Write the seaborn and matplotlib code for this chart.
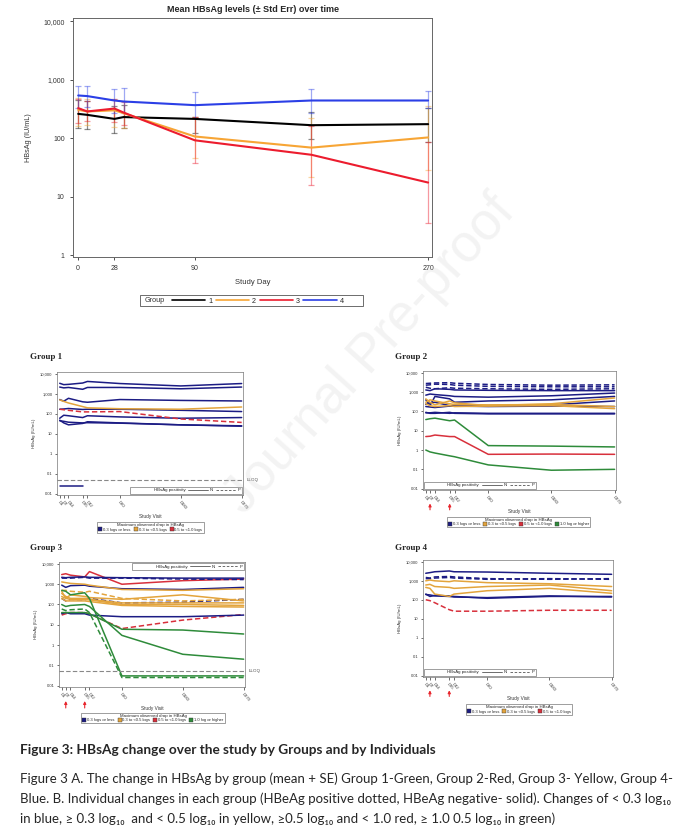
import numpy as np
import pandas as pd
import matplotlib
matplotlib.use("Agg")
import matplotlib.pyplot as plt
import seaborn as sns
from matplotlib.lines import Line2D
from matplotlib.patches import Rectangle
from matplotlib.ticker import FuncFormatter, FixedLocator, NullLocator

# ---- panel A: mean HBsAg (+/- SE) by group ----
days = [0, 7, 28, 35, 90, 180, 270]
groups = ["1", "2", "3", "4"]
group_colors = ["#000000", "#f7a535", "#ec1c2e", "#2b3fe6"]
g1_mean = [261, 251, 214, 230, 214, 167, 174]
g1_lo = [152, 146, 122, 148, 122, 96, 87]
g1_hi = [454, 440, 358, 370, 235, 286, 326]
g2_mean = [306, 287, 300, 268, 107, 69, 103]
g2_lo = [163, 170, 155, 150, 45, 22, 28]
g2_hi = [480, 460, 470, 440, 230, 220, 360]
g3_mean = [327, 287, 322, 275, 92, 52, 17.4]
g3_lo = [180, 200, 190, 170, 38, 15.5, 3.5]
g3_hi = [470, 430, 460, 420, 230, 160, 87]
g4_mean = [539, 526, 442, 425, 368, 442, 442]
g4_lo = [327, 340, 268, 270, 220, 275, 327]
g4_hi = [790, 790, 700, 710, 614, 700, 650]

# ---- panel B: individual subjects ----
visit_days = [1, 7, 14, 35, 42, 90, 180, 270]
visit_labels = ["D1", "D7", "D14", "D35", "D42", "D90", "D180", "D270"]
drop_cats = ["0.3 logs or less", "0.3 to <0.5 logs", "0.5 to <1.0 logs", "1.0 log or higher"]
drop_colors = ["#1c1c84", "#e3a43c", "#d8303c", "#2e8b3a"]
nan = np.nan

grp1_vals = [
    [3400, 2900, 3000, 3500, 4200, 3300, 2500, 3300],
    [2200, 2000, 2100, 1700, 2100, 2100, 1800, 2200],
    [520, 430, 600, 400, 380, 520, 470, 440],
    [500, 420, 350, 230, 200, 180, 170, 220],
    [170, 175, 185, 165, 170, 170, 150, 130],
    [170, 160, 150, 125, 125, 130, 55, 37],
    [60, 85, 80, 65, 80, 70, 60, 65],
    [48, 35, 28, 33, 40, 35, 28, 25],
    [45, 42, 38, 35, 36, 34, 28, 24],
    [0.025, 0.025, 0.025, 0.025, nan, nan, nan, nan],
]
grp1_cat = [0, 0, 0, 1, 0, 2, 0, 0, 0, 0]
grp1_pos = ["N", "N", "N", "N", "N", "P", "N", "N", "N", "N"]

grp2_vals = [
    [2800, 2900, 3000, 3100, 2900, 2500, 2300, 2400],
    [2300, 2400, 2600, 2500, 2300, 2000, 1900, 1900],
    [1800, 1600, 1500, 1700, 1600, 1500, 1400, 1500],
    [1300, 1200, 1500, 1400, 1300, 1250, 1200, 1200],
    [700, 800, 750, 650, 600, 550, 650, 900],
    [400, 200, 600, 450, 300, 350, 400, 600],
    [230, 280, 300, 200, 190, 200, 220, 350],
    [180, 170, 160, 190, 190, 180, 190, 180],
    [85, 85, 90, 80, 85, 80, 80, 80],
    [90, 80, 80, 90, 80, 75, 75, 75],
    [450, 300, 220, 350, 280, 200, 250, 500],
    [300, 400, 350, 250, 230, 220, 230, 180],
    [250, 200, 180, 200, 180, 190, 200, 140],
    [38, 42, 45, 33, 36, 1.7, 1.6, 1.45],
    [5, 5.2, 6, 5, 5, 0.6, 0.62, 0.6],
    [1.0, 0.8, 0.7, 0.5, 0.45, 0.17, 0.09, 0.1],
]
grp2_cat = [0, 0, 0, 0, 0, 0, 0, 0, 0, 0, 1, 1, 1, 3, 2, 3]
grp2_pos = ["P", "P", "P", "N", "N", "N", "N", "N", "N", "N", "N", "N", "N", "N", "N", "N"]

grp3_vals = [
    [3000, 3300, 2800, 2300, 4200, 1000, 1500, 1800],
    [2200, 2100, 2200, 2300, 2200, 2100, 2000, 2000],
    [2000, 2000, 2000, 2200, 2000, 2000, 1800, 1700],
    [900, 700, 850, 900, 800, 600, 550, 700],
    [1300, 1200, 1100, 1000, 900, 550, 500, 600],
    [500, 500, 450, 400, 450, 200, 150, 180],
    [450, 200, 300, 250, 220, 180, 300, 150],
    [350, 250, 200, 200, 180, 120, 120, 120],
    [250, 200, 180, 180, 170, 100, 100, 90],
    [200, 150, 150, 150, 140, 90, 80, 75],
    [200, 150, 180, 170, 200, 120, 130, 180],
    [500, 450, 300, 380, 200, 0.03, 0.03, 0.03],
    [60, 50, 55, 60, 40, 0.025, 0.025, 0.025],
    [100, 80, 90, 100, 80, 3, 0.35, 0.2],
    [40, 40, 40, 40, 35, 6, 5.5, 3.5],
    [30, 35, 40, 40, 35, 6.5, 17, 32],
    [35, 40, 35, 35, 30, 25, 25, 30],
]
grp3_cat = [2, 0, 0, 0, 1, 1, 1, 1, 1, 1, 0, 3, 3, 3, 3, 2, 0]
grp3_pos = ["N", "N", "P", "N", "N", "P", "N", "N", "N", "N", "P", "N", "P", "N", "N", "P", "N"]

grp4_vals = [
    [2500, 2700, 3000, 3300, 3000, 2900, 2500, 2200],
    [1500, 1400, 1600, 1700, 1600, 1300, 1200, 1300],
    [1300, 1300, 1400, 1500, 1400, 1200, 1300, 1200],
    [1000, 1100, 1000, 900, 1000, 800, 700, 500],
    [600, 650, 500, 450, 400, 500, 600, 300],
    [450, 400, 200, 150, 200, 300, 400, 220],
    [200, 150, 170, 160, 150, 120, 150, 150],
    [190, 180, 160, 150, 140, 130, 160, 140],
    [100, 90, 70, 30, 25, 25, 28, 28],
]
grp4_cat = [0, 0, 0, 1, 1, 1, 0, 0, 2]
grp4_pos = ["N", "P", "P", "N", "N", "N", "N", "N", "P"]

W, H = 686, 836
fig = plt.figure(figsize=(W / 100, H / 100), dpi=100)
sns.set_style("ticks")
plt.rcParams["font.family"] = ["Liberation Sans", "DejaVu Sans"]


def px_axes(x0, y0, x1, y1):
    return fig.add_axes([x0 / W, 1 - y1 / H, (x1 - x0) / W, (y1 - y0) / H])


def log_fmt(v, _):
    if v >= 1:
        return f"{v:,.0f}"
    return f"{v:g}"


# ---------- top chart ----------
ax = px_axes(73, 18, 432, 257)
means = [g1_mean, g2_mean, g3_mean, g4_mean]
los = [g1_lo, g2_lo, g3_lo, g4_lo]
his = [g1_hi, g2_hi, g3_hi, g4_hi]
df_mean = pd.DataFrame({
    "day": days * 4,
    "mean": sum(means, []),
    "lo": sum(los, []),
    "hi": sum(his, []),
    "group": sum([[g] * len(days) for g in groups], []),
})
for g, c in zip(groups, group_colors):
    sub = df_mean[df_mean["group"] == g]
    ax.errorbar(sub["day"], sub["mean"],
                yerr=[sub["mean"] - sub["lo"], sub["hi"] - sub["mean"]],
                fmt="none", ecolor=c, alpha=0.45, elinewidth=0.9, capsize=2.5, capthick=0.9)
sns.lineplot(data=df_mean, x="day", y="mean", hue="group", palette=dict(zip(groups, group_colors)),
             lw=1.5, legend=False, ax=ax)
ax.set_yscale("log")
ax.set_ylim(10 ** -0.034, 10 ** 4.058)
ax.set_xlim(-4, 273)
ax.yaxis.set_major_locator(FixedLocator([1, 10, 100, 1000, 10000]))
ax.yaxis.set_minor_locator(NullLocator())
ax.yaxis.set_major_formatter(FuncFormatter(log_fmt))
ax.set_xticks([0, 28, 90, 270])
ax.tick_params(labelsize=5, length=2.5, width=0.6, colors="#333333", labelcolor="#333333")
ax.set_xlabel("Study Day", fontsize=5.5, color="#333333", labelpad=5)
ax.set_ylabel("HBsAg (IU/mL)", fontsize=5.2, color="#333333", labelpad=8)
ax.set_title("Mean HBsAg levels (\u00b1 Std Err) over time", fontsize=6.5, fontweight="bold", pad=4)
for s in ax.spines.values():
    s.set_color("#666666")
    s.set_linewidth(0.7)

# group legend below
fig.patches.append(Rectangle((140 / W, 1 - 306 / H), 223 / W, 11 / H, transform=fig.transFigure,
                             fill=False, ec="#555555", lw=0.6))
fig.text(145 / W, 1 - 301 / H, "Group", fontsize=5.2, va="center", color="#333333")
handles = [Line2D([], [], color=c, lw=1.2) for c in group_colors]
fig.legend(handles, groups, loc="center left", bbox_to_anchor=(172 / W, 1 - 301 / H), ncol=4,
           frameon=False, fontsize=5.2, handlelength=4.6, handletextpad=0.4, columnspacing=0.5,
           borderpad=0, borderaxespad=0)

# ---------- individual panels ----------
panels = [
    ("Group 1", grp1_vals, grp1_cat, grp1_pos, (57, 372, 243, 495), (30, 357), "br", True, False, 3,
     (89, 521, 212, 534)),
    ("Group 2", grp2_vals, grp2_cat, grp2_pos, (423, 371, 616, 490), (395, 357), "bl", False, True, 4,
     (439, 516, 598, 528)),
    ("Group 3", grp3_vals, grp3_cat, grp3_pos, (59, 562, 245, 687), (30, 548), "tr", True, True, 4,
     (69, 712, 237, 724)),
    ("Group 4", grp4_vals, grp4_cat, grp4_pos, (423, 560, 613, 677), (395, 548), "bl", False, True, 3,
     (459, 703, 579, 716)),
]

for title, vals, cats, pos, box, tpos, inner, lloq, arrows, ncat, lbox in panels:
    rows = []
    for i, (v, c, p) in enumerate(zip(vals, cats, pos)):
        for d, y in zip(visit_days, v):
            rows.append({"subj": i, "day": d, "value": y, "cat": drop_cats[c], "pos": p})
    dfi = pd.DataFrame(rows).dropna()
    a = px_axes(*box)
    sns.lineplot(data=dfi, x="day", y="value", hue="cat", style="pos", units="subj", estimator=None,
                 palette=dict(zip(drop_cats, drop_colors)), dashes={"N": "", "P": (3.5, 1.8)},
                 lw=1.1, legend=False, sort=False, ax=a)
    a.set_yscale("log")
    a.set_ylim(0.0085, 12500)
    a.set_xlim(-3, 272)
    a.yaxis.set_major_locator(FixedLocator([0.01, 0.1, 1, 10, 100, 1000, 10000]))
    a.yaxis.set_minor_locator(NullLocator())
    a.yaxis.set_major_formatter(FuncFormatter(log_fmt))
    a.set_xticks(visit_days)
    a.set_xticklabels(visit_labels, rotation=-50, ha="left", rotation_mode="anchor")
    a.tick_params(labelsize=3, length=1.8, width=0.5, pad=1.5, colors="#333333")
    a.set_xlabel("Study Visit", fontsize=3.4, labelpad=3, color="#333333")
    a.set_ylabel("HBsAg (IU/mL)", fontsize=3.2, labelpad=3, color="#333333")
    for s in a.spines.values():
        s.set_color("#777777")
        s.set_linewidth(0.5)
    fig.text(tpos[0] / W, 1 - tpos[1] / H, title, fontsize=6.5, fontweight="bold",
             family="Liberation Serif", va="center")
    if lloq:
        a.axhline(0.05, color="#888888", lw=0.8, ls=(0, (4, 2)))
        a.text(1.02, 0.05, "LLOQ", transform=a.get_yaxis_transform(), fontsize=3.2, va="center",
               color="#444444")
    if arrows:
        for d in [7, 35]:
            a.annotate("", xy=(d, -0.09), xytext=(d, -0.19), xycoords=("data", "axes fraction"),
                       textcoords=("data", "axes fraction"),
                       arrowprops=dict(arrowstyle="-|>", color="#e8262d", lw=0.8, mutation_scale=4))
    # HBsAg positivity legend
    ph = [Line2D([], [], color="none"), Line2D([], [], color="#555555", lw=0.6),
          Line2D([], [], color="#555555", lw=0.6, ls=(0, (3, 2)))]
    loc = {"br": "lower right", "bl": "lower left", "tr": "upper right"}[inner]
    lg = a.legend(ph, ["HBsAg positivity", "N", "P"], loc=loc, ncol=3, fontsize=3.2, frameon=True,
                  handlelength=4.5, handletextpad=0.4, columnspacing=0.6, borderpad=0.3,
                  fancybox=False, edgecolor="#555555", borderaxespad=0.3)
    lg.get_frame().set_linewidth(0.5)
    # maximum observed drop legend
    dh = [Line2D([], [], ls="none", marker="s", ms=2.6, mfc=drop_colors[k], mec="#333333", mew=0.3)
          for k in range(ncat)]
    lx0, ly0, lx1, ly1 = lbox
    dl = fig.legend(dh, drop_cats[:ncat], loc="center", bbox_to_anchor=((lx0 + lx1) / 2 / W, 1 - (ly0 + ly1) / 2 / H),
                    ncol=ncat, fontsize=3, title="Maximum observed drop in HBsAg", title_fontsize=3.2,
                    frameon=True, fancybox=False, edgecolor="#555555", handlelength=0.8,
                    handletextpad=0.3, columnspacing=0.8, borderpad=0.25, labelspacing=0.1)
    dl.get_frame().set_linewidth(0.5)
    dl._legend_box.sep = 0.5

# watermark
fig.text(370 / W, 1 - 355 / H, "Journal Pre-proof", fontsize=38, rotation=48, ha="center", va="center",
         color="#c8c8c8", alpha=0.22, family="Liberation Sans")

# caption
cap_fam = ["Lato", "DejaVu Sans"]
fig.text(20 / W, 1 - 750 / H, "Figure 3: HBsAg change over the study by Groups and by Individuals",
         fontsize=9.8, fontweight="bold", family=cap_fam, va="center")
cap_lines = [
    "Figure 3 A. The change in HBsAg by group (mean + SE) Group 1-Green, Group 2-Red, Group 3- Yellow, Group 4-",
    "Blue. B. Individual changes in each group (HBeAg positive dotted, HBeAg negative- solid). Changes of < 0.3 log\u2081\u2080",
    "in blue, \u2265 0.3 log\u2081\u2080  and < 0.5 log\u2081\u2080 in yellow, \u22650.5 log\u2081\u2080 and < 1.0 red, \u2265 1.0 0.5 log\u2081\u2080 in green)",
]
for i, t in enumerate(cap_lines):
    fig.text(20 / W, 1 - (779 + i * 20) / H, t, fontsize=9.5, family=cap_fam, va="center")

fig.savefig("out.png", dpi=100)
